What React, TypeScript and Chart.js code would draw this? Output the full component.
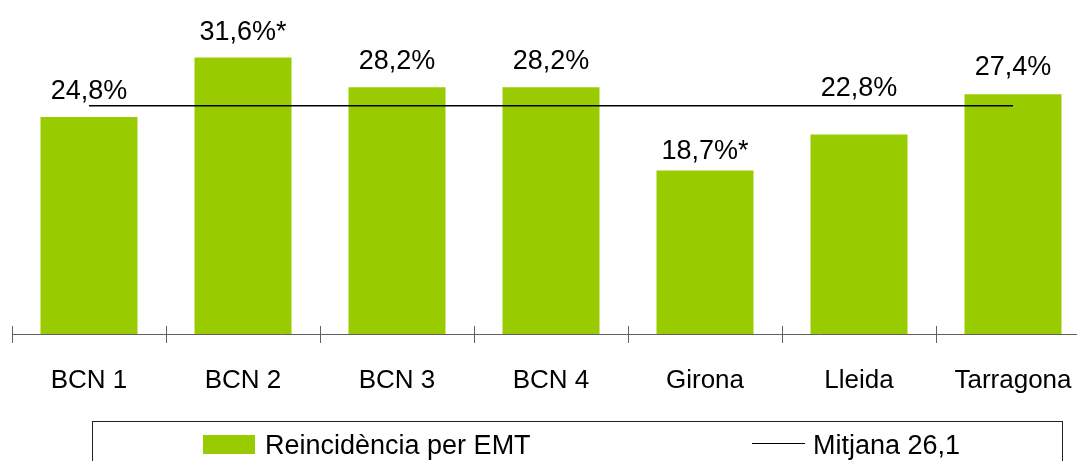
import React, { useEffect, useRef } from "react";
import { Chart, registerables } from "chart.js";

Chart.register(...registerables);

const categories = ["BCN 1", "BCN 2", "BCN 3", "BCN 4", "Girona", "Lleida", "Tarragona"];
const reincidencia = [24.8, 31.6, 28.2, 28.2, 18.7, 22.8, 27.4];
const notes = ["", "*", "", "", "*", "", ""];
const mitjana = 26.1;
const mitjanaSeries = categories.map(() => mitjana);

const FONT = "'Liberation Sans', Arial, sans-serif";
const GREEN = "#99cc00";

const fmt = (v: number) => v.toFixed(1).replace(".", ",");

const labelPlugin = {
  id: "barLabels",
  afterDatasetsDraw(chart: any, _args: any, opts: any) {
    const ctx = chart.ctx;
    const meta = chart.getDatasetMeta(0);
    const gaps: number[] = opts.gaps || [];
    ctx.save();
    ctx.font = `27px ${FONT}`;
    ctx.fillStyle = "#000";
    ctx.textAlign = "center";
    ctx.textBaseline = "alphabetic";
    meta.data.forEach((bar: any, i: number) => {
      const text = fmt(reincidencia[i]) + "%" + notes[i];
      const gap = gaps[i] ?? 18;
      ctx.fillText(text, bar.x, bar.y - gap);
    });
    ctx.restore();
  },
};

const axisPlugin = {
  id: "axisTicks",
  afterDraw(chart: any) {
    const ctx = chart.ctx;
    const x = chart.scales.x;
    const bottom = chart.chartArea.bottom;
    const n = categories.length;
    const w = (x.right - x.left) / n;
    ctx.save();
    ctx.strokeStyle = "#606060";
    ctx.lineWidth = 1;
    ctx.beginPath();
    ctx.moveTo(x.left, bottom + 0.5);
    ctx.lineTo(x.right, bottom + 0.5);
    for (let i = 0; i <= n; i++) {
      const px = Math.round(x.left + i * w) + 0.5;
      ctx.moveTo(px, bottom - 8);
      ctx.lineTo(px, bottom + 9);
    }
    ctx.stroke();
    ctx.restore();
  },
};

const legendPlugin = {
  id: "boxLegend",
  afterDraw(chart: any) {
    const ctx = chart.ctx;
    const ds = chart.data.datasets;
    ctx.save();
    ctx.strokeStyle = "#222";
    ctx.lineWidth = 1;
    ctx.strokeRect(92.5, 421.5, 970, 60);
    ctx.fillStyle = ds[0].backgroundColor;
    ctx.fillRect(203, 435, 52, 19);
    ctx.strokeStyle = "#000";
    ctx.beginPath();
    ctx.moveTo(752, 443.5);
    ctx.lineTo(805, 443.5);
    ctx.stroke();
    ctx.font = `27px ${FONT}`;
    ctx.fillStyle = "#000";
    ctx.textAlign = "left";
    ctx.textBaseline = "alphabetic";
    ctx.fillText(ds[0].label, 265, 454);
    ctx.fillText(ds[1].label, 813, 454);
    ctx.restore();
  },
};

export default function App() {
  const ref = useRef<HTMLCanvasElement>(null);
  useEffect(() => {
    if (!ref.current) return;
    const chart = new Chart(ref.current, {
      type: "bar",
      data: {
        labels: categories,
        datasets: [
          {
            type: "bar",
            label: "Reincidència per EMT",
            data: reincidencia,
            backgroundColor: GREEN,
            borderWidth: 0,
            categoryPercentage: 1,
            barPercentage: 0.63,
            order: 2,
          },
          {
            type: "line",
            label: "Mitjana " + fmt(mitjana),
            data: mitjanaSeries,
            borderColor: "#000",
            borderWidth: 1.5,
            pointRadius: 0,
            fill: false,
            order: 1,
          } as any,
        ],
      },
      options: {
        responsive: false,
        animation: false,
        devicePixelRatio: 1,
        layout: { padding: { left: 12, right: 10, top: 19, bottom: 0 } },
        plugins: {
          legend: { display: false },
          tooltip: { enabled: false },
          barLabels: { gaps: [18, 18, 18, 18, 11, 39, 19] },
        } as any,
        scales: {
          x: {
            offset: true,
            grid: { display: false },
            border: { display: false },
            ticks: {
              color: "#000",
              font: { family: FONT, size: 26 },
              padding: 23,
              maxRotation: 0,
              autoSkip: false,
            },
            afterFit(scale: any) {
              scale.height = 127;
            },
          },
          y: {
            display: false,
            min: 0,
            max: 36,
          },
        },
      },
      plugins: [labelPlugin, axisPlugin, legendPlugin],
    });
    return () => chart.destroy();
  }, []);
  return (
    <div
      style={{
        position: "fixed",
        left: 0,
        top: 0,
        width: 1077,
        height: 461,
        overflow: "hidden",
        background: "#fff",
      }}
    >
      <canvas ref={ref} width={1100} height={461} style={{ display: "block" }} />
    </div>
  );
}
